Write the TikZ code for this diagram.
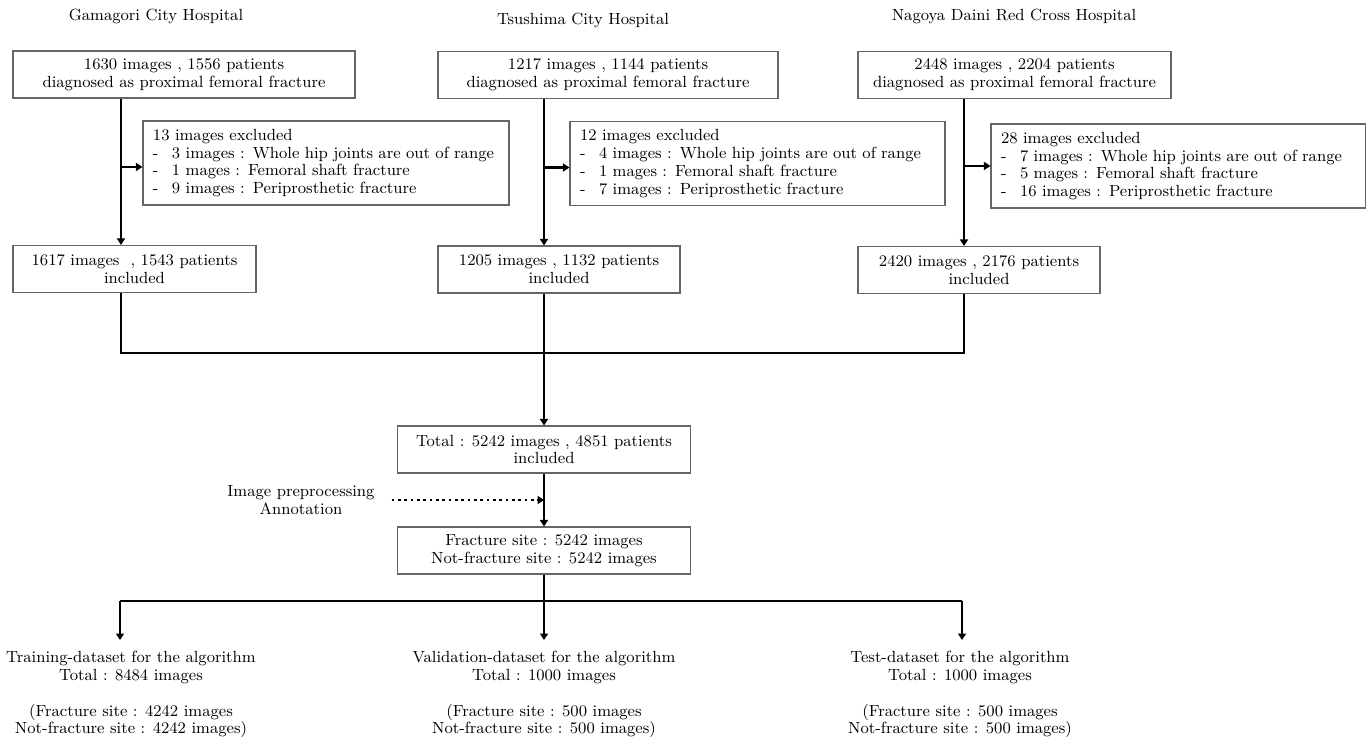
\documentclass[tikz,border=0pt]{standalone}
\usetikzlibrary{positioning,arrows.meta,calc}
\tikzset{
    Box/.style={draw=black!60, line width=.6pt, fill=white, rectangle, align=center, minimum height=9.4mm, inner sep=1pt},
    ExclBox/.style={draw=black!60, line width=.6pt, rectangle, align=left, minimum height=16.8mm, inner xsep=2mm},
    Flow/.style={line width=1.6pt, -{Triangle[length=1.3mm,width=1.6mm]}},
    Link/.style={line width=1.6pt},
    Prep/.style={line width=1.6pt, dotted, -{Triangle[length=1.3mm,width=1.6mm]}},
    Title/.style={align=center, inner sep=1pt},
    Result/.style={align=center, anchor=north, inner ysep=2.2mm}
    }
\newcommand{\Item}[1]{\makebox[3.8mm][l]{-}#1}

\begin{document}
\begin{tikzpicture}[x=0.2mm, y=-0.2mm, font={\fontsize{9.2}{10.1}\selectfont}]

\useasboundingbox (0,0) rectangle (1372,742);

\node[Title] (Hosp1) at (156,16) {Gamagori City Hospital};
\node[Title] (Hosp2) at (583,20) {Tsushima City Hospital};
\node[Title] (Hosp3) at (1014,16) {Nagoya Daini Red Cross Hospital};

\node[Box, minimum width=68.4mm] (Diag1) at (184,74.5) {1630 images , 1556 patients\\diagnosed as proximal femoral fracture};
\node[Box, minimum width=68mm] (Diag2) at (608,75) {1217 images , 1144 patients\\diagnosed as proximal femoral fracture};
\node[Box, minimum width=62.6mm] (Diag3) at (1014.5,75) {2448 images , 2204 patients\\diagnosed as proximal femoral fracture};

\node[ExclBox, minimum width=73.2mm, text width=69.2mm] (Excl1) at (326,163) {13 images excluded\\
\Item{3 images : Whole hip joints are out of range}\\
\Item{1 mages : Femoral shaft fracture}\\
\Item{9 images : Periprosthetic fracture}};
\node[ExclBox, minimum width=75mm, text width=71mm] (Excl2) at (757.5,163.5) {12 images excluded\\
\Item{4 images : Whole hip joints are out of range}\\
\Item{1 mages : Femoral shaft fracture}\\
\Item{7 images : Periprosthetic fracture}};
\node[ExclBox, minimum width=74.8mm, text width=70.8mm] (Excl3) at (1178,166) {28 images excluded\\
\Item{7 images : Whole hip joints are out of range}\\
\Item{5 mages : Femoral shaft fracture}\\
\Item{16 images : Periprosthetic fracture}};

\node[Box, minimum width=48.6mm] (Incl1) at (134.5,269) {1617 images \ , 1543 patients\\included};
\node[Box, minimum width=48.4mm] (Incl2) at (559,269.5) {1205 images , 1132 patients\\included};
\node[Box, minimum width=48.4mm] (Incl3) at (979,270) {2420 images , 2176 patients\\included};

\node[Box, minimum width=58.6mm] (Total) at (544,449.5) {Total : 5242 images , 4851 patients\\included};
\node[Box, minimum width=58.6mm] (Sites) at (544,550.5) {Fracture site : 5242 images\\Not-fracture site : 5242 images};

\node[Title] (Prep) at (301,500) {Image preprocessing\\Annotation};

\node[Result] (Train) at (131,640) {Training-dataset for the algorithm\\Total : 8484 images\\[10.1pt](Fracture site : 4242 images\\Not-fracture site : 4242 images)};
\node[Result] (Valid) at (544,640) {Validation-dataset for the algorithm\\Total : 1000 images\\[10.1pt](Fracture site : 500 images\\Not-fracture site : 500 images)};
\node[Result] (Test) at (960,640) {Test-dataset for the algorithm\\Total : 1000 images\\[10.1pt](Fracture site : 500 images\\Not-fracture site : 500 images)};

\coordinate (Col1) at (121,353);
\coordinate (Col3) at (964,353);
\coordinate (Split1) at (120,601);
\coordinate (Split3) at (962,601);

\draw[Flow] (Diag1.south -| Col1) -- (Incl1.north -| Col1);
\draw[Flow] (Diag2.south -| Total.north) -- (Incl2.north -| Total.north);
\draw[Flow] (Diag3.south -| Col3) -- (Incl3.north -| Col3);

\draw[Flow] ([yshift=-0.8mm]Excl1.west -| Col1) -- ([yshift=-0.8mm]Excl1.west);
\draw[Flow] ([yshift=-0.8mm]Excl2.west -| Total.north) -- ([yshift=-0.8mm]Excl2.west);
\draw[Flow] (Excl3.west -| Col3) -- (Excl3.west);

\draw[Link] (Incl1.south -| Col1) -- (Col1) -- (Col3) -- (Incl3.south -| Col3);
\draw[Flow] (Incl2.south -| Total.north) -- (Total.north);
\draw[Flow] (Total.south) -- (Sites.north);
\draw[Prep] ([xshift=3mm]Prep.east) -- (Prep.east -| Total.south);

\draw[Link] (Sites.south) -- (Sites.south |- Split1);
\draw[Link] (Split1) -- (Split3);
\draw[Flow] (Split1) -- (Train.north -| Split1);
\draw[Flow] (Sites.south |- Split1) -- (Valid.north);
\draw[Flow] (Split3) -- (Test.north -| Split3);

\end{tikzpicture}
\end{document}
